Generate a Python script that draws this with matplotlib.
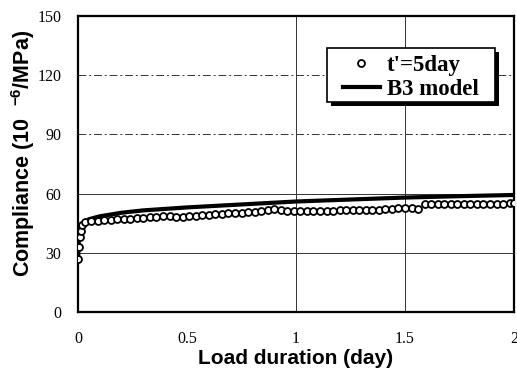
import matplotlib
matplotlib.use("Agg")
import matplotlib.pyplot as plt
from matplotlib.lines import Line2D
from matplotlib.patches import Rectangle

# Measured compliance, t' = 5 day
t_obs = [0.000, 0.004, 0.008, 0.013, 0.020, 0.030, 0.060, 0.090, 0.120, 0.150,
         0.180, 0.210, 0.240, 0.270, 0.300, 0.330, 0.360, 0.390, 0.420, 0.450,
         0.480, 0.510, 0.540, 0.570, 0.600, 0.630, 0.660, 0.690, 0.720, 0.750,
         0.780, 0.810, 0.840, 0.870, 0.900, 0.930, 0.960, 0.990, 1.020, 1.050,
         1.080, 1.110, 1.140, 1.170, 1.200, 1.230, 1.260, 1.290, 1.320, 1.350,
         1.380, 1.410, 1.440, 1.470, 1.500, 1.530, 1.560, 1.590, 1.620, 1.650,
         1.680, 1.710, 1.740, 1.770, 1.800, 1.830, 1.860, 1.890, 1.920, 1.950,
         1.980, 2.000]
j_obs = [27.0, 33.0, 38.0, 41.0, 44.0, 45.5, 46.0, 46.3, 46.6, 46.8,
         47.0, 47.2, 47.3, 47.5, 47.8, 48.0, 48.3, 48.4, 48.6, 48.3,
         48.0, 48.6, 48.9, 49.2, 49.4, 49.6, 49.8, 50.0, 50.2, 50.4,
         50.6, 50.8, 51.0, 51.6, 52.2, 51.8, 51.4, 51.2, 51.2, 51.3,
         51.3, 51.4, 51.3, 51.4, 51.5, 51.5, 51.6, 51.6, 51.7, 51.8,
         51.9, 52.1, 52.4, 52.8, 52.9, 52.5, 52.2, 54.8, 54.6, 54.5,
         54.6, 54.6, 54.7, 54.7, 54.7, 54.8, 54.8, 54.8, 54.9, 54.9,
         55.0, 55.0]

# B3 model prediction
t_b3 = [0.000, 0.003, 0.006, 0.010, 0.020, 0.050, 0.100, 0.200, 0.300, 0.500,
        0.750, 1.000, 1.250, 1.500, 1.750, 2.000]
j_b3 = [25.0, 36.0, 40.0, 42.5, 45.0, 47.0, 48.5, 50.3, 51.5, 53.0,
        54.5, 56.0, 57.0, 58.0, 58.7, 59.3]

x_ticks = [0, 0.5, 1, 1.5, 2]
x_ticklabels = ["0", "0.5", "1", "1.5", "2"]
y_ticks = [0, 30, 60, 90, 120, 150]
legend_labels = ["t'=5day", "B3 model"]

plt.rcParams['mathtext.fontset'] = 'custom'
plt.rcParams['mathtext.rm'] = 'Liberation Sans:bold'
plt.rcParams['mathtext.bf'] = 'Liberation Sans:bold'

W, H = 517, 372
fig = plt.figure(figsize=(W/100, H/100), dpi=100)
AX_L, AX_B, AX_W, AX_H = 78, 60, 436, 296
ax = fig.add_axes([AX_L/W, AX_B/H, AX_W/W, AX_H/H])

def px_to_axes(px, py):
    return (px - AX_L) / AX_W, (H - AX_B - py) / AX_H

# grid
for yv in [30, 60]:
    ax.axhline(yv, color='#333333', lw=0.7, zorder=1)
for yv in [90, 120]:
    ax.axhline(yv, color='#333333', lw=0.7, ls=(0, (8, 3, 2, 3)), zorder=1)
for xv in [1, 1.5]:
    ax.axvline(xv, color='#333333', lw=0.7, zorder=1)

ax.plot(t_b3, j_b3, color='black', lw=3.0, zorder=3, solid_capstyle='butt')
ax.plot(t_obs, j_obs, ls='none', marker='o', markersize=5, markerfacecolor='white',
        markeredgecolor='black', markeredgewidth=1.3, zorder=4)

ax.set_xlim(0, 2)
ax.set_ylim(0, 150)
ax.set_xticks(x_ticks)
ax.set_xticklabels(x_ticklabels)
ax.set_yticks(y_ticks)
ax.tick_params(length=0, labelsize=11.5)
ax.tick_params(axis='x', pad=14)
ax.tick_params(axis='y', pad=12)
for lab in ax.get_xticklabels() + ax.get_yticklabels():
    lab.set_family('Liberation Serif')
for s in ax.spines.values():
    s.set_linewidth(1.6)

ax.set_xlabel('Load duration (day)', family='Liberation Sans', fontweight='bold',
              fontsize=15, labelpad=1)
ax.set_ylabel(r'Compliance (10  $^{-6}$/MPa)', family='Liberation Sans',
              fontweight='bold', fontsize=15.5)
ax.yaxis.set_label_coords(-0.093, 0.535)

# legend frame with dark drop shadow
x0, y1 = px_to_axes(327, 48)
x1, y0 = px_to_axes(495, 102)
sx, sy = 4 / AX_W, 4 / AX_H
ax.add_patch(Rectangle((x0 + sx, y0 - sy), x1 - x0, y1 - y0, transform=ax.transAxes,
                       facecolor='black', edgecolor='none', zorder=6, clip_on=False))
ax.add_patch(Rectangle((x0, y0), x1 - x0, y1 - y0, transform=ax.transAxes,
                       facecolor='white', edgecolor='black', lw=1.2, zorder=6.5,
                       clip_on=False))

handles = [Line2D([], [], ls='none', marker='o', markersize=5, markerfacecolor='white',
                  markeredgecolor='black', markeredgewidth=1.3),
           Line2D([], [], color='black', lw=3.0)]
leg = ax.legend(handles, legend_labels, loc='upper left',
                bbox_to_anchor=px_to_axes(343, 55), borderaxespad=0, frameon=False,
                prop={'family': 'Liberation Serif', 'weight': 'bold', 'size': 16.5},
                handlelength=1.6, handletextpad=0.3, borderpad=0,
                labelspacing=0.12)
leg.set_zorder(7)

fig.savefig('out.png', dpi=100)
